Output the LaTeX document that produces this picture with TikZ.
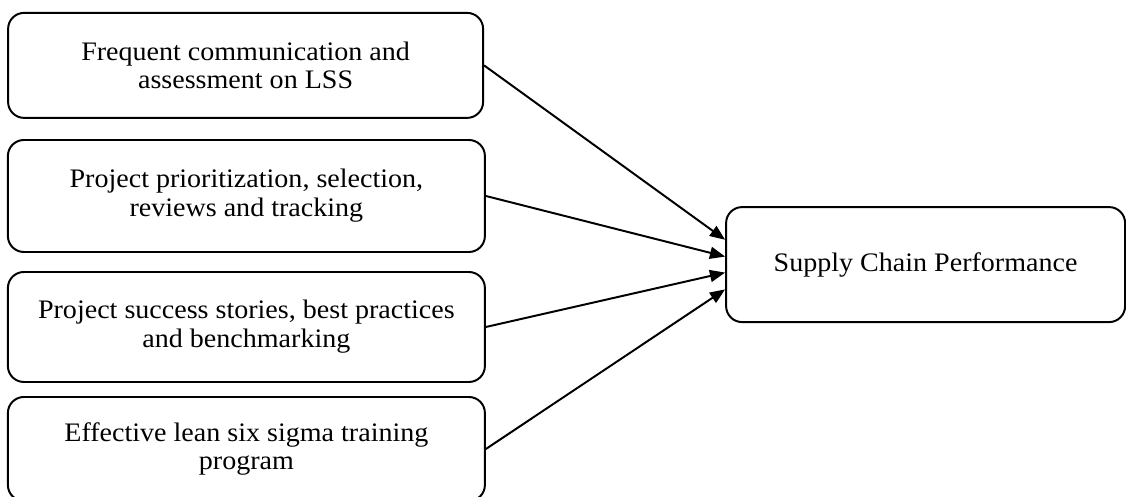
\documentclass[tikz,border=0pt]{standalone}
\usepackage{fontspec}
\setmainfont[FakeStretch=1.05]{Liberation Serif}
\usepackage{tikz}
\usetikzlibrary{arrows.meta,calc}

\begin{document}
\begin{tikzpicture}[
  factor/.style={draw,line width=1.4pt,rounded corners=0.4cm,align=center,
    inner sep=0pt,font=\fontsize{19}{20.5}\selectfont},
  link/.style={-{Triangle[length=3.8mm,width=3mm]},line width=1.4pt}]
\useasboundingbox (0,0) rectangle (28.15,12.425);
\node[factor,minimum width=11.875cm,minimum height=2.625cm] (comm) at (6.14,10.79){Frequent communication and\\assessment on LSS};
\node[factor,minimum width=11.925cm,minimum height=2.8cm] (proj) at (6.16,7.525){Project prioritization, selection,\\reviews and tracking};
\node[factor,minimum width=11.925cm,minimum height=2.75cm] (succ) at (6.16,4.25){Project success stories, best practices\\and benchmarking};
\node[factor,minimum width=11.925cm,minimum height=2.6cm] (train) at (6.16,1.2){Effective lean six sigma training\\program};
\node[factor,minimum width=9.975cm,minimum height=2.875cm] (perf) at (23.14,5.81){Supply Chain Performance};
\foreach \from/\dy in {comm/0.62,proj/0.2,succ/-0.2,train/-0.62}
  \draw[link] (\from.east) -- ($(perf.west)+(0,\dy)$);
\end{tikzpicture}
\end{document}
